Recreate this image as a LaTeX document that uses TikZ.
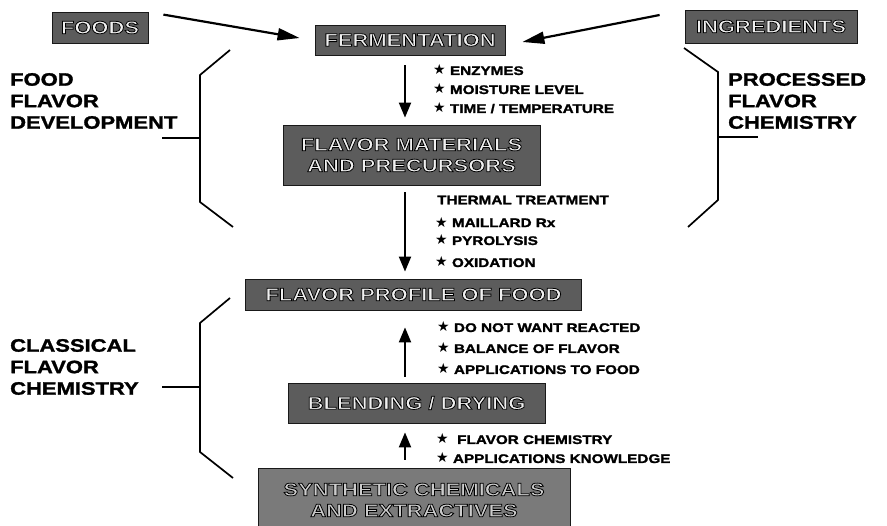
\documentclass[tikz,border=0pt]{standalone}
\usepackage{fontspec}
\usetikzlibrary{arrows.meta}
\newfontfamily\labfont{Liberation Sans}[UprightFont={* Bold}, FakeStretch=1.22, FakeBold=1.6]
\newfontfamily\boxfont{Liberation Sans}[UprightFont={* Bold}, FakeStretch=1.22]
\newfontfamily\symfont{DejaVu Sans}
\newcommand\olt[1]{\special{pdf:literal direct 0 G 0.8 w 2 Tr}#1\special{pdf:literal direct 0 Tr}}
\newcommand\bst{{\symfont\fontsize{14}{12}\selectfont ★}}
\begin{document}
\begin{tikzpicture}[x=1pt,y=-1pt,
  box/.style={fill=black!64, draw=black!90, line width=0.8pt, inner sep=0pt,
    text=black!6, font=\boxfont\fontsize{18}{21}\selectfont, align=center},
  synbox/.style={box, fill=black!52, text=black!20},
  biglab/.style={anchor=west, align=left, inner sep=0pt, text=black,
    font=\labfont\fontsize{18}{21.5}\selectfont},
  bul/.style={anchor=west, inner sep=0pt, text=black,
    font=\labfont\fontsize{12.5}{14}\selectfont},
  varr/.style={line width=2pt, -{Triangle[length=15pt,width=12pt]}},
  darr/.style={line width=2.2pt, -{Triangle[length=22pt,width=12pt]}},
  brk/.style={line width=1.7pt, line join=miter}]
\useasboundingbox (0,0) rectangle (887,526);
\fill[white] (0,0) rectangle (887,526);

% boxes
\node[box, minimum width=96pt, minimum height=31pt] (foods) at (100,27.5) {\olt{FOODS}};
\node[box, minimum width=190pt, minimum height=30pt] (ferm) at (410,40) {\olt{FERMENTATION}};
\node[box, minimum width=172pt, minimum height=33pt] (ingr) at (771,26.5) {\olt{INGREDIENTS}};
\node[box, minimum width=257pt, minimum height=60pt] (fmp) at (411.5,155) {\olt{FLAVOR MATERIALS}\\\olt{AND PRECURSORS}};
\node[box, minimum width=336pt, minimum height=31pt] (fpf) at (413.5,294.5) {\olt{FLAVOR PROFILE OF FOOD}};
\node[box, minimum width=257pt, minimum height=40pt] (blend) at (416.5,403) {\olt{BLENDING / DRYING}};
\node[synbox, minimum width=312pt, minimum height=64pt] (syn) at (414,500) {\olt{SYNTHETIC CHEMICALS}\\\olt{AND EXTRACTIVES}};

% side labels
\node[biglab] (ffd) at (10,101) {FOOD\\FLAVOR\\DEVELOPMENT};
\node[biglab] (pfc) at (728,101) {PROCESSED\\FLAVOR\\CHEMISTRY};
\node[biglab] (cfc) at (10,367) {CLASSICAL\\FLAVOR\\CHEMISTRY};

% bullet texts
\node[bul] (b1) at (433,70) {\bst\ ENZYMES};
\node[bul] (b2) at (433,89) {\bst\ MOISTURE LEVEL};
\node[bul] (b3) at (433,108) {\bst\ TIME / TEMPERATURE};
\node[bul] (t1) at (437,200) {THERMAL TREATMENT};
\node[bul] (b4) at (435,222) {\bst\ MAILLARD Rx};
\node[bul] (b5) at (435,240) {\bst\ PYROLYSIS};
\node[bul] (b6) at (435,262) {\bst\ OXIDATION};
\node[bul] (b7) at (437,327) {\bst\ DO NOT WANT REACTED};
\node[bul] (b8) at (437,348) {\bst\ BALANCE OF FLAVOR};
\node[bul] (b9) at (437,369) {\bst\ APPLICATIONS TO FOOD};
\node[bul] (b10) at (436,439) {\bst\ \ FLAVOR CHEMISTRY};
\node[bul] (b11) at (436,458) {\bst\ APPLICATIONS KNOWLEDGE};

% arrows
\coordinate (axis) at (405,0);
\draw[darr] ([shift={(15,3)}]foods.north east) -- ([shift={(-15,-2)}]ferm.west);
\draw[darr] ([shift={(-25,-11.5)}]ingr.west) -- ([shift={(17,2)}]ferm.east);
\draw[varr, shorten <=10pt, shorten >=7pt] (ferm.south -| axis) -- (fmp.north -| axis);
\draw[varr, shorten <=7pt, shorten >=7pt] (fmp.south -| axis) -- (fpf.north -| axis);
\draw[varr, shorten <=6pt, shorten >=17pt] (blend.north -| axis) -- (fpf.south -| axis);
\draw[varr, shorten <=8pt, shorten >=9pt] (syn.north -| axis) -- (blend.south -| axis);

% brackets
\draw[brk] (230,50) -- (200,75) -- (200,202) -- (233,227);
\draw[brk] (162,138) -- (200,138);
\draw[brk] (684,48) -- (718,72) -- (718,200) -- (688,227);
\draw[brk] (718,137) -- (758,137);
\draw[brk] (230,298) -- (200,323) -- (200,452) -- (233,478);
\draw[brk] (162,387) -- (200,387);
\end{tikzpicture}
\end{document}
